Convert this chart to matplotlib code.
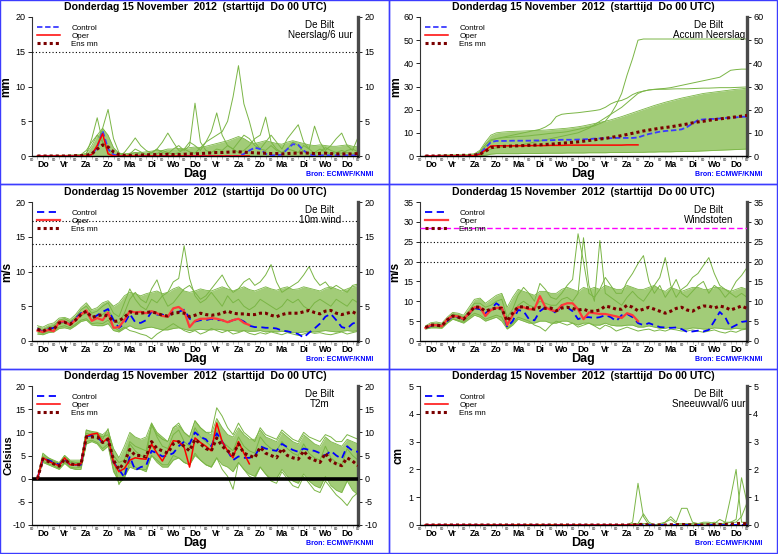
import numpy as np
import matplotlib
matplotlib.use('Agg')
import matplotlib.pyplot as plt
from matplotlib.lines import Line2D
from matplotlib.patches import Rectangle

plt.rcParams['font.family'] = ['Liberation Sans', 'DejaVu Sans']
plt.rcParams['axes.unicode_minus'] = False

# ---------------- time axis (6-hourly steps, days since Do 15 Nov 00 UTC) ----
step_hours = np.arange(6, 361, 6)
day_names = ['Do', 'Vr', 'Za', 'Zo', 'Ma', 'Di', 'Wo', 'Do', 'Vr', 'Za', 'Zo', 'Ma', 'Di', 'Wo', 'Do']
title_text = 'Donderdag 15 November  2012  (starttijd  Do 00 UTC)'

# ---------------- Panel 1: Neerslag/6 uur (mm) ----------------
p1_control = [0, 0, 0, 0,  0, 0, 0, 0,  0, 0, 0.2, 1.2,  3.6, 1.0, 0.2, 0,
              0, 0, 0, 0,  0, 0, 0, 0,  0, 0, 0, 0,  0, 0, 0, 0,  0, 0, 0, 0,
              0, 0, 0.3, 0.8,  1.2, 1.0, 0.3, 0.1,  0.1, 0.2, 1.0, 1.7,
              1.6, 0.8, 0.2, 0.1,  0.1, 0.1, 0.1, 0.1,  0.1, 0.1, 0.1, 0.1]
p1_oper = [0, 0, 0, 0,  0, 0, 0, 0,  0, 0, 0.2, 1.5,  3.2, 0.3, 0, 0,
           0, 0, 0, 0,  0, 0, 0, 0,  0, 0, 0, 0,  0, 0, 0, 0,  0, 0, 0, 0,  0, 0, 0, 0]
p1_ensmean = [0, 0, 0, 0,  0, 0, 0, 0.05,  0.05, 0.1, 0.3, 1.0,  1.6, 1.3, 0.6, 0.2,
              0.1, 0.1, 0.1, 0.15,  0.15, 0.2, 0.2, 0.2,  0.25, 0.2, 0.2, 0.25,
              0.3, 0.3, 0.35, 0.4,  0.45, 0.5, 0.5, 0.55,  0.6, 0.6, 0.55, 0.5,
              0.45, 0.4, 0.4, 0.35,  0.35, 0.3, 0.35, 0.4,  0.4, 0.45, 0.4, 0.35,
              0.35, 0.4, 0.35, 0.3,  0.3, 0.3, 0.3, 0.35]
p1_lo = [0] * 60
p1_hi = [0.05, 0.05, 0.1, 0.1,  0.1, 0.1, 0.15, 0.15,  0.2, 0.4, 1.5, 3.0,  4.0, 3.0, 1.2, 0.4,
         0.3, 0.4, 0.5, 0.5,  0.6, 0.7, 0.8, 0.8,  1.0, 1.0, 1.1, 1.0,  1.2, 1.3, 1.2, 1.4,
         1.6, 1.8, 2.0, 2.2,  2.5, 2.8, 2.5, 2.0,  1.8, 2.0, 2.2, 2.0,  1.8, 1.7, 2.0, 2.2,
         2.0, 1.8, 1.6, 1.5,  1.6, 1.5, 1.4, 1.4,  1.5, 1.6, 1.4, 1.3]
p1_mem_a = [0, 0, 0, 0,  0, 0, 0, 0,  0, 0.3, 2.5, 5.5,  2.0, 0.5, 0, 0,
            0, 0.2, 0.5, 0.2,  0, 0, 0.3, 0.8,  0.5, 0.2, 0.5, 1.0,  0.6, 0.4, 1.2, 2.0,
            2.5, 3.0, 3.5, 5.0,  8.5, 13.0, 7.5, 5.0,  2.0, 1.0, 0.8, 1.5,  0.8, 0.5, 1.0, 2.0,
            1.5, 0.6, 0.4, 0.5,  1.0, 0.6, 0.3, 0.5,  0.8, 0.5, 0.3, 0.6]
p1_mem_b = [0, 0, 0, 0,  0, 0, 0, 0,  0, 0, 0.2, 1.5,  4.0, 6.7, 2.5, 0.5,
            0, 0.3, 1.0, 0.6,  0.2, 0.5, 1.0, 0.5,  0.3, 1.0, 1.5, 0.8,  1.5, 7.6, 2.0, 0.8,
            0.5, 1.0, 0.8, 1.5,  1.0, 0.5, 0.8, 1.5,  2.5, 3.0, 5.6, 2.0,  1.0, 0.5, 1.0, 0.8,
            0.5, 1.5, 1.0, 0.4,  0.6, 1.2, 0.8, 0.5,  0.4, 0.8, 1.0, 0.6]
p1_mem_c = [0, 0, 0, 0,  0, 0, 0, 0.1,  0.2, 0.8, 2.0, 3.0,  2.0, 0.8, 0.2, 0,
            0.5, 1.5, 2.6, 1.5,  0.8, 0.4, 1.0, 2.0,  3.3, 2.0, 0.8, 1.0,  2.0, 1.5, 0.8, 2.0,
            3.5, 6.2, 3.0, 1.5,  1.0, 2.0, 3.0, 2.5,  1.5, 1.0, 2.0, 3.0,  2.0, 1.0, 2.5, 3.5,
            4.5, 2.0, 1.0, 4.3,  2.0, 0.8, 1.5, 2.5,  3.3, 1.5, 0.8, 2.7]

# ---------------- Panel 2: Accum Neerslag (mm) ----------------
p2_control = [0, 0, 0, 0,  0, 0, 0, 0,  0, 0.2, 1.0, 3.5,  6.0, 6.5, 6.5, 6.5,
              6.6, 6.6, 6.6, 6.6,  6.7, 6.7, 6.8, 6.8,  6.9, 7.0, 7.0, 7.0,
              7.1, 7.2, 7.3, 7.5,  7.6, 7.7, 7.7, 7.8,  7.8, 7.8, 7.8, 8.0,
              8.8, 9.5, 10.0, 10.5,  10.8, 11.0, 11.2, 11.5,  12.5, 14.0, 15.5, 15.8,
              16.0, 16.0, 16.2, 16.4,  16.5, 16.7, 16.9, 17.0]
p2_oper = [0, 0, 0, 0,  0, 0, 0, 0,  0, 0.2, 0.8, 2.5,  4.3, 4.4, 4.4, 4.4,
           4.4, 4.4, 4.4, 4.5,  4.5, 4.5, 4.5, 4.6,  4.6, 4.6, 4.7, 4.7,
           4.7, 4.7, 4.7, 4.7,  4.7, 4.7, 4.7, 4.7,  4.7, 4.8, 4.8, 4.8]
p2_ensmean = [0, 0, 0, 0.1,  0.1, 0.2, 0.2, 0.3,  0.3, 0.4, 0.8, 2.0,  3.6, 4.0, 4.1, 4.2,
              4.3, 4.4, 4.5, 4.6,  4.7, 4.8, 5.0, 5.1,  5.3, 5.5, 5.7, 5.9,
              6.1, 6.4, 6.7, 7.0,  7.3, 7.6, 8.0, 8.4,  8.8, 9.3, 9.8, 10.3,
              10.8, 11.2, 11.6, 12.0,  12.3, 12.6, 13.0, 13.4,  13.8, 14.3, 14.7, 15.0,
              15.4, 15.7, 16.0, 16.3,  16.6, 16.9, 17.2, 17.5]
p2_lo = [0, 0, 0, 0,  0, 0, 0, 0,  0, 0, 0.1, 0.3,  0.8, 1.0, 1.0, 1.0,
         1.0, 1.0, 1.1, 1.1,  1.1, 1.1, 1.2, 1.2,  1.2, 1.2, 1.3, 1.3,  1.3, 1.3, 1.4, 1.4,
         1.4, 1.4, 1.5, 1.5,  1.5, 1.5, 1.6, 1.6,  1.6, 1.7, 1.7, 1.8,  1.8, 1.8, 1.9, 1.9,
         2.0, 2.0, 2.1, 2.2,  2.3, 2.4, 2.5, 2.6,  2.7, 2.8, 2.9, 3.0]
p2_hi = [0.1, 0.2, 0.3, 0.4,  0.5, 0.5, 0.6, 0.6,  0.7, 1.0, 2.5, 6.0,  9.0, 10.0, 10.3, 10.5,
         10.6, 10.7, 10.8, 10.9,  11.0, 11.1, 11.2, 11.4,  11.6, 11.8, 12.0, 12.3,
         12.6, 13.0, 13.5, 14.0,  14.5, 15.0, 15.6, 16.3,  17.0, 17.8, 18.6, 19.4,
         20.2, 21.0, 21.8, 22.5,  23.2, 23.8, 24.4, 25.0,  25.5, 26.0, 26.5, 27.0,
         27.3, 27.6, 27.9, 28.2,  28.5, 28.8, 29.0, 29.3]
p2_mem_a = [0, 0, 0, 0,  0, 0, 0, 0.1,  0.2, 0.5, 2.0, 5.0,  7.0, 7.5, 7.8, 8.0,
            8.2, 8.4, 8.5, 8.7,  9.0, 9.2, 9.5, 9.8,  10.0, 10.2, 10.5, 11.0,
            11.5, 12.0, 12.5, 13.0,  14.0, 15.0, 18.0, 22.0,  27.0, 35.0, 42.0, 50.0,
            50.5, 50.5, 50.5, 50.5,  50.5, 50.5, 50.5, 50.5,  50.5, 50.5, 50.5, 50.5,
            50.5, 50.5, 50.5, 50.5,  50.5, 50.5, 50.5, 50.5]
p2_mem_b = [0, 0, 0, 0,  0, 0, 0, 0.1,  0.2, 0.4, 1.5, 4.0,  6.5, 7.5, 8.0, 8.5,
            9.0, 9.5, 10.0, 10.5,  11.0, 11.5, 12.5, 14.0,  17.0, 18.0, 18.3, 18.5,
            18.7, 19.0, 19.3, 19.6,  20.0, 21.0, 22.5, 23.5,  24.0, 25.0, 26.5, 27.5,
            28.0, 28.5, 28.8, 29.0,  29.2, 29.5, 30.0, 30.5,  31.0, 31.5, 32.0, 32.5,
            33.0, 33.5, 34.0, 35.5,  37.0, 37.3, 37.5, 37.5]
p2_mem_c = [0, 0, 0, 0,  0, 0, 0, 0,  0, 0.1, 0.5, 2.0,  3.0, 3.5, 3.8, 4.0,
            4.2, 4.5, 5.0, 5.5,  6.0, 6.5, 7.0, 7.5,  8.0, 8.5, 9.0, 9.5,
            10.0, 11.0, 12.0, 13.5,  15.0, 16.5, 18.0, 19.5,  21.0, 23.0, 25.0, 27.0,
            28.0, 28.5, 28.7, 28.8,  28.8, 28.9, 29.0, 29.0,  29.0, 29.1, 29.2, 29.3,
            29.3, 29.4, 29.5, 29.5,  29.5, 29.6, 29.7, 29.8]

# ---------------- Panel 3: 10m wind (m/s) ----------------
p3_control = [1.8, 1.3, 1.7, 1.9,  2.7, 2.8, 2.4, 3.2,  4.0, 4.3, 3.2, 3.7,  4.2, 4.6, 3.0, 1.9,
              2.5, 3.9, 2.7, 2.6,  3.0, 4.2, 3.8, 3.8,  3.5, 4.3, 4.2, 4.5,  3.2, 2.8, 3.0, 3.0,
              3.2, 3.0, 3.0, 2.7,  3.0, 3.2, 2.8, 2.2,  2.0, 2.0, 1.9, 1.9,  1.8, 1.5, 1.4, 1.2,
              1.0, 0.5, 1.2, 1.8,  2.5, 3.5, 3.9, 3.0,  2.0, 1.8, 2.5, 2.8]
p3_oper = [1.5, 1.3, 1.6, 1.4,  2.8, 2.8, 2.3, 3.0,  3.8, 4.4, 2.9, 3.3,  3.0, 4.1, 1.9, 2.0,
           3.0, 4.3, 4.1, 4.2,  4.0, 4.3, 4.0, 3.6,  3.5, 4.7, 4.9, 4.3,  2.0, 2.9, 3.2, 3.2,
           3.3, 3.2, 3.0, 2.7,  3.0, 3.2, 2.6, 2.3]
p3_ensmean = [1.7, 1.4, 1.8, 1.7,  2.6, 2.7, 2.4, 3.0,  3.8, 4.3, 3.4, 3.6,  3.8, 3.6, 2.8, 2.9,
              3.4, 4.2, 4.0, 4.0,  4.1, 4.2, 4.0, 3.7,  3.6, 4.0, 4.1, 4.0,  3.5, 3.7, 4.0, 3.8,
              3.7, 3.8, 4.0, 4.3,  4.0, 3.9, 3.9, 3.8,  3.8, 4.0, 4.0, 3.7,  3.5, 3.8, 4.0, 4.0,
              4.0, 4.2, 4.4, 4.1,  3.9, 4.3, 4.4, 4.0,  3.8, 4.0, 4.2, 3.8]
p3_lo = [1.0, 0.9, 1.2, 1.3,  1.8, 1.9, 1.7, 2.2,  2.8, 3.0, 2.3, 2.2,  2.2, 2.5, 1.5, 1.3,
         1.8, 2.2, 1.8, 1.7,  1.9, 2.0, 1.8, 1.6,  1.6, 1.8, 1.9, 1.7,  1.5, 1.6, 1.7, 1.6,
         1.6, 1.7, 1.6, 1.5,  1.5, 1.4, 1.5, 1.4,  1.4, 1.5, 1.3, 1.4,  1.3, 1.4, 1.3, 1.2,
         1.2, 1.3, 1.4, 1.3,  1.4, 1.5, 1.4, 1.3,  1.4, 1.5, 1.4, 1.5]
p3_hi = [2.2, 2.0, 2.4, 2.6,  3.3, 3.4, 3.1, 3.8,  4.8, 5.5, 4.5, 4.8,  5.5, 5.8, 5.0, 5.5,
         6.5, 7.0, 6.8, 6.5,  6.8, 7.0, 7.2, 6.8,  7.0, 7.5, 7.8, 7.2,  7.0, 7.2, 7.5, 7.3,
         7.2, 7.5, 7.8, 7.5,  7.2, 7.5, 7.8, 7.4,  7.2, 7.5, 7.8, 7.5,  7.3, 7.6, 7.8, 7.4,
         7.5, 7.8, 7.6, 7.4,  7.2, 7.6, 7.8, 7.5,  7.2, 7.5, 7.8, 8.0]
p3_mem_a = [1.9, 1.5, 2.0, 2.2,  3.0, 3.2, 2.8, 3.4,  4.5, 5.0, 4.0, 4.3,  5.0, 5.5, 4.0, 3.5,
            5.5, 7.5, 6.0, 5.0,  4.5, 6.0, 5.5, 6.5,  7.0, 8.5, 9.0, 13.7,  9.0, 6.5, 5.5, 6.0,
            7.0, 6.0, 5.0, 6.5,  5.5, 6.0, 5.0, 4.5,  5.0, 6.0, 5.5, 5.0,  4.5, 5.0, 6.0, 5.5,
            6.0, 5.0, 4.5, 5.5,  6.0, 5.5, 5.0, 6.0,  5.5, 5.0, 6.0, 5.5]
p3_mem_b = [1.6, 1.2, 1.5, 1.6,  2.5, 2.6, 2.2, 2.9,  3.6, 4.0, 3.0, 3.4,  3.8, 4.5, 3.2, 2.5,
            4.0, 6.0, 7.0, 6.0,  5.5, 7.5, 8.8, 6.5,  5.0, 5.5, 6.5, 7.5,  8.0, 7.0, 6.0, 6.5,
            7.5, 8.5, 9.5, 8.0,  7.0, 7.5, 8.5, 9.0,  8.0, 8.5, 9.5, 11.0,  8.5, 7.0, 7.5, 8.0,
            8.5, 9.5, 10.7, 9.0,  8.0, 8.5, 7.5, 8.0,  7.5, 7.0, 8.0, 8.2]
p3_mem_c = [1.3, 1.1, 1.4, 1.5,  2.0, 2.2, 1.9, 2.4,  3.0, 3.2, 2.5, 2.6,  2.5, 3.0, 2.0, 1.5,
            2.0, 1.5, 1.3, 1.0,  0.8, 0.3, 1.0, 1.5,  2.0, 2.5, 2.0, 1.5,  1.2, 1.5, 1.0, 1.3,
            1.8, 1.5, 1.2, 1.5,  1.0, 1.2, 1.5, 1.1,  0.9, 1.2, 1.0, 1.3,  1.1, 0.9, 1.2, 1.0,
            0.8, 1.0, 1.3, 1.1,  1.2, 1.0, 0.9, 1.1,  1.3, 1.0, 1.2, 1.4]

# ---------------- Panel 4: Windstoten (m/s) ----------------
p4_control = [3.3, 3.8, 3.9, 3.8,  5.0, 6.3, 6.0, 5.5,  7.0, 8.3, 8.0, 7.0,  8.0, 9.5, 8.5, 3.5,
              5.0, 7.8, 7.5, 5.5,  5.2, 7.5, 8.5, 8.0,  7.0, 9.0, 8.5, 7.5,  5.5, 6.0, 6.0, 5.8,
              6.0, 6.5, 6.0, 5.0,  6.5, 6.8, 6.0, 4.5,  4.0, 4.5, 4.0, 3.5,  3.4, 3.3, 3.4, 3.0,
              2.3, 2.4, 2.6, 2.4,  2.8, 5.0, 7.3, 6.0,  3.3, 4.0, 4.8, 5.0]
p4_oper = [3.3, 4.0, 4.0, 3.7,  5.5, 6.3, 6.2, 5.5,  7.0, 8.5, 8.5, 6.3,  7.8, 8.3, 8.5, 4.0,
           6.5, 8.5, 8.5, 8.0,  8.0, 11.3, 8.5, 7.8,  7.5, 9.0, 9.5, 9.5,  8.0, 5.5, 7.2, 7.0,
           6.8, 6.8, 6.5, 6.2,  5.8, 7.0, 6.5, 5.0]
p4_ensmean = [3.4, 4.0, 4.0, 3.8,  5.3, 6.3, 6.0, 5.5,  7.0, 8.6, 8.5, 7.5,  8.0, 8.3, 8.2, 5.0,
              7.0, 8.6, 8.6, 8.3,  8.0, 8.5, 8.2, 8.3,  7.6, 8.3, 8.5, 8.2,  7.8, 8.0, 7.5, 7.5,
              7.8, 8.8, 8.5, 8.0,  8.0, 9.0, 8.5, 7.6,  8.0, 8.5, 8.0, 7.5,  7.0, 7.5, 8.2, 8.5,
              7.8, 7.5, 8.3, 8.8,  8.8, 8.3, 8.8, 8.5,  7.8, 8.3, 8.8, 8.2]
p4_lo = [3.0, 3.3, 3.3, 3.2,  4.5, 5.5, 5.0, 4.5,  5.5, 6.5, 6.0, 5.0,  5.5, 6.0, 5.0, 3.0,
         4.0, 5.5, 5.0, 4.5,  4.5, 5.0, 5.0, 4.5,  4.5, 5.0, 5.0, 4.5,  4.0, 4.5, 4.5, 4.0,
         4.0, 4.5, 4.0, 3.8,  3.8, 4.0, 4.0, 3.5,  3.5, 3.8, 3.5, 3.2,  3.2, 3.5, 3.3, 3.0,
         3.0, 3.3, 3.2, 3.0,  3.0, 3.3, 3.2, 3.0,  3.0, 3.2, 3.0, 3.2]
p4_hi = [3.8, 4.6, 4.8, 4.5,  6.0, 7.2, 7.0, 6.5,  8.5, 10.5, 10.8, 9.5,  10.5, 11.5, 12.0, 8.5,
         11.0, 13.0, 12.5, 12.0,  11.5, 12.5, 12.5, 12.0,  12.0, 13.0, 13.5, 13.0,
         12.5, 13.5, 13.0, 13.5,  13.0, 14.0, 13.5, 13.0,  13.0, 14.0, 13.5, 13.0,
         13.0, 13.5, 14.0, 13.0,  12.5, 13.5, 13.0, 12.5,  13.0, 13.5, 13.5, 13.0,
         13.0, 13.5, 13.5, 13.0,  12.5, 13.0, 13.5, 13.0]
p4_mem_a = [3.5, 4.2, 4.3, 4.0,  5.5, 6.8, 6.5, 6.0,  7.5, 9.5, 9.5, 8.5,  9.0, 10.0, 10.5, 6.0,
            8.0, 11.5, 13.5, 12.0,  10.0, 14.5, 13.0, 11.0,  10.5, 12.0, 14.0, 15.5,
            27.0, 20.0, 12.0, 11.0,  13.0, 16.0, 14.0, 12.0,  12.0, 15.0, 17.0, 19.5,
            21.5, 15.0, 12.0, 14.0,  11.0, 13.0, 15.5, 12.0,  11.0, 12.5, 14.0, 15.0,
            12.0, 14.0, 13.0, 11.0,  12.5, 15.0, 16.5, 18.5]
p4_mem_b = [3.2, 3.7, 3.8, 3.6,  5.0, 6.0, 5.8, 5.2,  6.5, 8.0, 8.0, 6.8,  7.5, 8.5, 7.5, 4.5,
            6.5, 9.0, 10.0, 9.0,  8.5, 10.0, 9.5, 9.0,  9.0, 10.5, 11.0, 10.0,
            12.0, 26.0, 14.0, 10.0,  25.3, 12.0, 11.0, 10.0,  9.0, 11.0, 12.5, 11.0,
            10.0, 12.0, 14.0, 16.0,  21.0, 14.0, 11.0, 13.0,  14.0, 16.0, 17.0, 19.0,
            21.0, 17.0, 14.0, 13.0,  12.0, 11.0, 12.0, 11.0]
p4_mem_c = [3.1, 3.5, 3.5, 3.4,  4.6, 5.6, 5.2, 4.8,  6.0, 7.0, 6.5, 5.5,  6.0, 6.5, 6.0, 3.2,
            4.5, 6.0, 5.5, 5.0,  4.0, 3.5, 2.5, 4.0,  5.0, 4.5, 4.0, 4.5,  3.5, 4.0, 4.5, 3.8,
            3.0, 4.0, 3.5, 2.5,  3.0, 3.5, 3.0, 2.5,  2.8, 3.0, 2.5, 2.8,  2.5, 3.0, 2.8, 2.5,
            2.5, 2.8, 2.5, 2.2,  2.5, 2.8, 2.3, 2.0,  2.5, 2.2, 2.8, 3.0]

# ---------------- Panel 5: T2m (Celsius) ----------------
p5_control = [0.0, 4.3, 4.0, 3.5,  3.0, 4.3, 3.0, 3.0,  3.0, 9.2, 9.3, 9.0,  7.8, 8.5, 3.5, 2.0,
              0.3, 4.8, 1.8, 2.5,  2.8, 6.0, 5.5, 4.8,  5.0, 5.5, 7.0, 8.0,  7.5, 10.0, 9.0, 8.5,
              7.0, 9.8, 8.0, 6.0,  4.0, 4.8, 4.5, 4.5,  4.8, 7.0, 6.5, 6.2,  6.0, 7.5, 6.8, 6.2,
              5.8, 6.5, 6.2, 6.0,  5.5, 5.0, 6.0, 5.0,  4.3, 7.0, 6.0, 5.8]
p5_oper = [0.0, 4.5, 3.8, 3.2,  2.8, 4.5, 3.0, 3.0,  3.2, 9.2, 9.6, 9.8,  7.8, 8.8, 3.5, 1.5,
           2.2, 4.0, 4.5, 4.3,  4.2, 7.5, 5.5, 3.8,  6.0, 8.2, 8.0, 6.8,  2.5, 8.8, 7.8, 7.0,
           6.0, 12.0, 8.0, 6.0,  4.5, 8.0, 5.5, 3.2]
p5_ensmean = [0.0, 4.2, 3.7, 3.2,  2.7, 4.2, 3.2, 3.0,  3.0, 9.0, 9.0, 9.0,  7.8, 8.5, 4.0, 2.0,
              3.5, 6.3, 5.0, 5.0,  4.7, 8.0, 6.5, 6.0,  5.5, 7.5, 8.0, 7.0,  6.0, 8.5, 7.5, 6.5,
              6.0, 8.8, 7.0, 6.0,  5.2, 7.5, 5.5, 5.0,  4.5, 6.8, 5.5, 5.0,  4.5, 6.5, 5.0, 4.5,
              4.2, 6.0, 4.5, 4.0,  3.5, 5.5, 3.8, 3.2,  2.8, 4.5, 3.8, 2.8]
p5_lo = [0.0, 3.5, 3.0, 2.5,  2.0, 3.3, 2.3, 2.0,  2.0, 7.5, 8.0, 7.5,  6.0, 7.0, 1.5, -0.5,
         0.5, 2.5, 2.0, 2.0,  1.5, 5.0, 3.5, 2.5,  2.5, 4.0, 4.5, 3.5,  3.0, 5.0, 4.0, 3.0,
         2.5, 4.5, 3.0, 2.5,  1.5, 3.5, 2.0, 1.0,  0.5, 2.5, 1.0, 0.0,  0.0, 2.0, 0.5, -0.5,
         -1.0, 1.0, -0.5, -1.5,  -2.0, 0.5, -1.5, -2.5,  -3.0, -0.5, -2.5, -3.5]
p5_hi = [0.0, 5.2, 4.5, 4.0,  3.5, 5.0, 4.0, 4.0,  4.0, 10.5, 10.0, 10.0,  9.5, 10.5, 6.5, 4.5,
         7.0, 10.0, 9.0, 8.5,  9.0, 12.0, 10.0, 9.0,  8.0, 11.0, 11.5, 10.0,  9.0, 12.5, 11.0, 10.0,
         9.5, 13.0, 11.0, 9.5,  9.0, 11.0, 9.5, 8.5,  8.5, 10.5, 9.0, 8.5,  8.0, 10.0, 9.0, 8.0,
         7.5, 9.5, 8.5, 7.5,  7.0, 9.0, 8.0, 7.5,  7.0, 8.5, 8.0, 7.5]
p5_mem_a = [0.0, 5.5, 4.5, 3.8,  3.2, 5.0, 3.8, 3.5,  3.5, 10.5, 10.2, 10.0,  8.5, 10.8, 5.0, 3.5,
            4.0, 8.0, 7.0, 6.5,  6.0, 11.5, 9.5, 8.5,  8.0, 11.0, 12.0, 10.0,  9.0, 12.5, 11.0, 10.0,
            10.0, 15.3, 13.5, 11.0,  9.5, 12.0, 10.0, 9.0,  8.0, 11.0, 9.5, 9.0,  8.5, 10.5, 9.5, 8.5,
            8.0, 10.0, 9.0, 8.5,  8.0, 9.5, 9.0, 8.0,  8.0, 9.5, 9.0, 8.5]
p5_mem_b = [0.0, 3.8, 3.2, 2.8,  2.2, 3.6, 2.5, 2.3,  2.5, 8.0, 8.3, 7.8,  6.5, 7.5, 2.0, -1.0,
            0.0, 3.5, 2.5, 2.0,  2.0, 5.0, 4.0, 3.0,  3.0, 5.0, 4.5, 3.5,  3.0, 5.5, 4.0, 3.0,
            2.5, 4.5, 2.0, 0.5,  -2.3, 3.5, 2.0, 0.5,  0.0, 2.5, 1.0, -0.5,  -1.0, 1.5, 0.0, -1.5,
            -2.0, 0.5, -1.0, -2.5,  -3.0, -0.5, -2.0, -3.5,  -4.5, -5.8, -4.0, -3.0]
p5_mem_c = [0.0, 4.8, 4.2, 3.6,  3.3, 4.6, 3.5, 3.2,  3.2, 9.8, 9.5, 9.5,  9.0, 9.5, 4.5, -1.3,
            1.0, 7.5, 6.0, 5.0,  4.5, 12.0, 9.0, 7.0,  6.5, 9.5, 10.5, 8.0,  7.0, 11.0, 9.0, 8.0,
            7.0, 10.5, 8.0, 7.0,  6.0, 9.0, 7.0, 6.0,  5.5, 9.0, 7.5, 6.5,  6.0, 8.0, 6.5, 5.5,
            5.0, 7.5, 5.5, 4.5,  4.0, 7.0, 4.5, 3.5,  3.0, 6.5, 5.0, 4.0]

# ---------------- Panel 6: Sneeuwval/6 uur (cm) ----------------
p6_control = [0, 0, 0, 0,  0, 0, 0, 0,  0, 0, 0, 0,  0, 0, 0, 0,  0, 0, 0, 0,
              0, 0, 0, 0,  0, 0, 0, 0,  0, 0, 0, 0,  0, 0, 0, 0,  0, 0, 0, 0,
              0, 0, 0, 0,  0, 0, 0, 0,  0, 0, 0, 0,  0, 0, 0, 0,  0, 0, 0, 0]
p6_oper = [0, 0, 0, 0,  0, 0, 0, 0,  0, 0, 0, 0,  0, 0, 0, 0,  0, 0, 0, 0,
           0, 0, 0, 0,  0, 0, 0, 0,  0, 0, 0, 0,  0, 0, 0, 0,  0, 0, 0, 0]
p6_ensmean = [0, 0, 0, 0,  0, 0, 0, 0,  0, 0, 0, 0,  0, 0, 0, 0,  0, 0, 0, 0,
              0, 0, 0, 0,  0, 0, 0, 0,  0, 0, 0, 0,  0, 0, 0, 0,  0, 0, 0, 0.02,
              0.02, 0, 0, 0,  0, 0.01, 0.01, 0.02,  0.01, 0, 0, 0,  0.01, 0.01, 0.02, 0.02,
              0.03, 0.05, 0.06, 0.04]
p6_mem_a = [0, 0, 0, 0,  0, 0, 0, 0,  0, 0, 0, 0,  0, 0, 0, 0,  0, 0, 0, 0,
            0, 0, 0, 0,  0, 0, 0, 0,  0, 0, 0, 0,  0, 0, 0, 0,  0, 0, 0.1, 1.5,
            0.3, 0, 0, 0,  0, 0, 0, 0,  0, 0, 0, 0,  0, 0, 0, 0.1,  1.0, 2.0, 0.1, 0.1]
p6_mem_b = [0, 0, 0, 0,  0, 0, 0, 0,  0, 0, 0, 0,  0, 0, 0, 0,  0, 0, 0, 0,
            0, 0, 0, 0,  0, 0, 0, 0,  0, 0, 0, 0,  0, 0, 0, 0,  0, 0, 0, 0.05,
            0.4, 0.1, 0, 0,  0.1, 0.3, 0.1, 0.6,  0.6, 0.1, 0.05, 0.05,  0.05, 0.1, 0.05, 0.05,
            0.1, 0.2, 1.7, 0.8]
p6_mem_c = [0, 0, 0, 0,  0, 0, 0, 0,  0, 0, 0, 0,  0, 0, 0, 0,  0, 0, 0, 0,
            0, 0, 0, 0,  0, 0, 0, 0,  0, 0, 0, 0,  0, 0, 0, 0,  0, 0, 0.05, 0.05,
            0.05, 0.05, 0, 0.05,  0.1, 0.2, 0.05, 0.05,  0.05, 0.05, 0.05, 0.1,  0.1, 0.05, 0.2, 0.1,
            0.1, 0.1, 0.3, 0.8]

panel_labels = ['Neerslag/6 uur', 'Accum Neerslag', '10m wind', 'Windstoten', 'T2m', 'Sneeuwval/6 uur']
panel_units = ['mm', 'mm', 'm/s', 'm/s', 'Celsius', 'cm']
panel_ylims = [(0, 20), (0, 60), (0, 20), (0, 35), (-10, 20), (0, 5)]
panel_ysteps = [5, 10, 5, 5, 5, 1]
dotted_levels = [[15], [], [10.8, 13.9, 17.2], [20, 25], [], []]
gust_alarm_level = 28.5

# ---------------- drawing ----------------
W, H = 778, 554
fig = plt.figure(figsize=(W / 100, H / 100), dpi=100)
fig.patch.set_facecolor('white')

t = step_hours / 24.0
GREEN = '#7ab545'
FILL = '#a2cc78'
ENS_COL = '#7a0000'

panels = [
    (p1_control, p1_oper, p1_ensmean, p1_lo, p1_hi, [p1_mem_a, p1_mem_b, p1_mem_c]),
    (p2_control, p2_oper, p2_ensmean, p2_lo, p2_hi, [p2_mem_a, p2_mem_b, p2_mem_c]),
    (p3_control, p3_oper, p3_ensmean, p3_lo, p3_hi, [p3_mem_a, p3_mem_b, p3_mem_c]),
    (p4_control, p4_oper, p4_ensmean, p4_lo, p4_hi, [p4_mem_a, p4_mem_b, p4_mem_c]),
    (p5_control, p5_oper, p5_ensmean, p5_lo, p5_hi, [p5_mem_a, p5_mem_b, p5_mem_c]),
    (p6_control, p6_oper, p6_ensmean, None, None, [p6_mem_a, p6_mem_b, p6_mem_c]),
]

col_x = [(32, 358), (420, 747)]
row_y = [(17, 156), (202, 341), (386, 525)]
frame_x = [(0, 389), (389, 777)]
frame_y = [(0, 184), (184, 369), (369, 553)]
ylabel_x = [-0.06, -0.055, -0.058, -0.056, -0.057, -0.047]
ylabel_size = [8.5, 8.5, 8.5, 8.5, 8.0, 8.5]

for i, (ctrl, oper, ensmn, lo, hi, members) in enumerate(panels):
    r, c = divmod(i, 2)
    x0, x1 = col_x[c]
    y0, y1 = row_y[r]
    ax = fig.add_axes([x0 / W, 1 - y1 / H, (x1 - x0) / W, (y1 - y0) / H])
    ymin, ymax = panel_ylims[i]
    ax.set_xlim(0, 15)
    ax.set_ylim(ymin, ymax)

    if lo is not None:
        ax.fill_between(t, lo, hi, color=FILL, lw=0, zorder=1)
        ax.plot(t, lo, color=GREEN, lw=0.6, zorder=2)
        ax.plot(t, hi, color=GREEN, lw=0.6, zorder=2)
    for m in members:
        ax.plot(t, m, color=GREEN, lw=0.7, zorder=2)

    for lev in dotted_levels[i]:
        ax.axhline(lev, color='black', ls=(0, (1, 2)), lw=0.8, zorder=3)
    if i == 3:
        ax.axhline(gust_alarm_level, color='#ff00ff', ls=(0, (4, 2)), lw=1.0, zorder=3)
    if i == 4:
        ax.axhline(0, color='black', lw=2.6, zorder=3)

    wind = i in (2, 3)
    ctrl_col = '#3b3bff' if i < 2 else '#0000ff'
    ctrl_ls = (0, (3, 1.5)) if i < 2 else (0, (4, 2.5))
    oper_col = '#ff3a3a' if wind else '#ff0000'
    oper_lw = 1.6 if wind else 1.1
    ax.plot(t, ctrl, color=ctrl_col, ls=ctrl_ls, lw=1.3, zorder=4)
    ax.plot(t[:len(oper)], oper, color=oper_col, lw=oper_lw, zorder=5)
    ax.plot(t, ensmn, color=ENS_COL, ls=(0, (1, 1)), lw=2.2, zorder=6)

    # axes styling
    ax.spines['top'].set_visible(False)
    ax.spines['left'].set_linewidth(0.8)
    ax.spines['left'].set_color('#333333')
    ax.spines['right'].set_linewidth(2.4)
    ax.spines['right'].set_color('#4a4a4a')
    ax.spines['bottom'].set_linewidth(1.0)
    ax.spines['bottom'].set_color('black')

    ax.set_yticks(np.arange(ymin, ymax + 0.01, panel_ysteps[i]))
    ax.tick_params(axis='y', left=True, right=True, labelleft=True, labelright=True,
                   labelsize=6.5, length=3, width=0.6, pad=1.5, direction='out')

    ax.set_xticks(np.arange(16))
    ax.set_xticklabels(['00'] * 16, fontsize=2.9)
    ax.set_xticks(np.arange(15) + 0.5, minor=True)
    ax.set_xticklabels(day_names, minor=True, fontsize=6.3, fontweight='bold')
    ax.tick_params(axis='x', which='major', length=0, pad=1.2)
    ax.tick_params(axis='x', which='minor', length=0, pad=2.6)

    sec = ax.secondary_xaxis('bottom')
    sec.set_xticks(t[(step_hours % 24) != 0])
    sec.set_xticklabels([])
    sec.tick_params(length=2.5, width=0.6, color='#b0b0b0', direction='out')
    sec.spines['bottom'].set_visible(False)

    ax.set_ylabel(panel_units[i], fontsize=ylabel_size[i], fontweight='bold')
    ax.yaxis.set_label_coords(ylabel_x[i], 0.5)

    ax.text(0.5, 1.072, title_text, transform=ax.transAxes, ha='center', va='center',
            fontsize=7.6, fontweight='bold')
    ax.text(0.5, -0.13, 'Dag', transform=ax.transAxes, ha='center', va='center',
            fontsize=9, fontweight='bold')
    ax.text(0.945, -0.13, 'Bron: ECMWF/KNMI', transform=ax.transAxes, ha='center', va='center',
            fontsize=5, fontweight='bold', color='#0000ff')
    ax.text(0.883, 0.978, 'De Bilt\n' + panel_labels[i], transform=ax.transAxes,
            ha='center', va='top', fontsize=7.1, linespacing=1.05)

    handles = [Line2D([], [], color=ctrl_col, ls=ctrl_ls, lw=1.3),
               Line2D([], [], color=oper_col, lw=oper_lw),
               Line2D([], [], color=ENS_COL, ls=(0, (1, 1)), lw=2.2)]
    ax.legend(handles, ['Control', 'Oper', 'Ens mn'], loc='upper left', bbox_to_anchor=(0.0, 0.98),
              frameon=False, fontsize=5.8, handlelength=2.9, handletextpad=1.4,
              labelspacing=0.0, borderaxespad=0.4, borderpad=0.2)

# panel frames
for r in range(3):
    for c in range(2):
        fx0, fx1 = frame_x[c]
        fy0, fy1 = frame_y[r]
        fig.add_artist(Rectangle((fx0 / W, 1 - fy1 / H), (fx1 - fx0) / W, (fy1 - fy0) / H,
                                 transform=fig.transFigure, fill=False,
                                 edgecolor='#3c3cff', lw=1.0))

fig.savefig('out.png', dpi=100, facecolor='white')
